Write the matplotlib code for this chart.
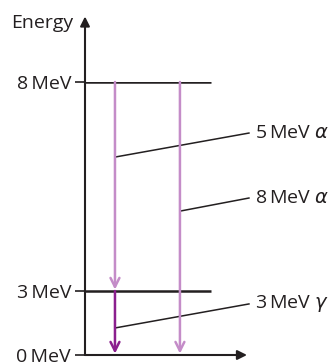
import numpy as np
import matplotlib
matplotlib.use("Agg")
import matplotlib.pyplot as plt

# energy levels (MeV) and their tick labels
niveles = [0, 3, 8]
etiquetas_niveles = ["0\u2009MeV", "3\u2009MeV", "8\u2009MeV"]

# transitions: (from, to) in MeV
transiciones_alfa1 = (8, 3)
transiciones_gamma = (3, 0)
transiciones_alfa2 = (8, 0)
etiquetas_trans = ["5\u2009MeV $\\alpha$", "8\u2009MeV $\\alpha$", "3\u2009MeV $\\gamma$"]

# the picture is not to scale: drawn height of each level (fraction of axis)
altura_dibujo = [0, 64 / 273, 1]

def fwd(e):
    return np.interp(e, niveles, altura_dibujo)

def inv(h):
    return np.interp(h, altura_dibujo, niveles)

claro = "#c48cc8"
oscuro = "#8b1f8e"
negro = "#231f20"
fs = 14

plt.rcParams['font.family'] = ['Open Sans', 'DejaVu Sans']
plt.rcParams['mathtext.fontset'] = 'dejavusans'

fig = plt.figure(figsize=(3.34, 3.62), dpi=100)
ax = fig.add_axes([85 / 334, 7 / 362, 162 / 334, 273 / 362])
ax.set_yscale('function', functions=(fwd, inv))
ax.set_ylim(0, 8)
ax.set_xlim(0, 1)
for s in ax.spines.values():
    s.set_visible(False)
ax.set_xticks([])
ax.set_yticks(niveles)
ax.set_yticklabels(etiquetas_niveles, fontsize=fs, color=negro)
ax.tick_params(axis='y', length=7, width=1.2, color=negro, pad=3)
ax.minorticks_off()

# axes arrows
ax.annotate("", xy=(0, 1.24), xytext=(0, 0), xycoords='axes fraction',
            arrowprops=dict(arrowstyle='-|>', color=negro, lw=1.5,
                            mutation_scale=14, shrinkA=0, shrinkB=0),
            annotation_clip=False)
ax.annotate("", xy=(1.0, 0), xytext=(0, 0), xycoords='axes fraction',
            arrowprops=dict(arrowstyle='-|>', color=negro, lw=1.5,
                            mutation_scale=14, shrinkA=0, shrinkB=0),
            annotation_clip=False)
ax.text(-0.075, 1.215, "Energy", transform=ax.transAxes, ha='right',
        va='center', fontsize=fs, color=negro)

# energy levels
for e in niveles[1:]:
    ax.plot([0, 0.778], [e, e], color=negro, lw=1.8, solid_capstyle='butt')

# transitions
def flecha(x, desde, hasta, color):
    ax.annotate("", xy=(x, hasta), xytext=(x, desde),
                arrowprops=dict(arrowstyle='->', color=color, lw=1.8,
                                mutation_scale=16, shrinkA=0, shrinkB=1),
                annotation_clip=False)

flecha(0.185, *transiciones_alfa1, claro)
flecha(0.185, *transiciones_gamma, oscuro)
flecha(0.586, *transiciones_alfa2, claro)

# labels with leader lines
puntos = [(0.185, 0.725), (0.586, 0.527), (0.185, 0.099)]
textos = [(1.012, 0.813), (1.012, 0.575), (1.012, 0.187)]
for lab, p, t in zip(etiquetas_trans, puntos, textos):
    ax.plot([p[0], t[0]], [p[1], t[1]], transform=ax.transAxes, color=negro,
            lw=1.1, clip_on=False)
    ax.text(t[0] + 0.04, t[1], lab, transform=ax.transAxes, ha='left',
            va='center', fontsize=fs, color=negro)

fig.savefig("out.png", dpi=100)
